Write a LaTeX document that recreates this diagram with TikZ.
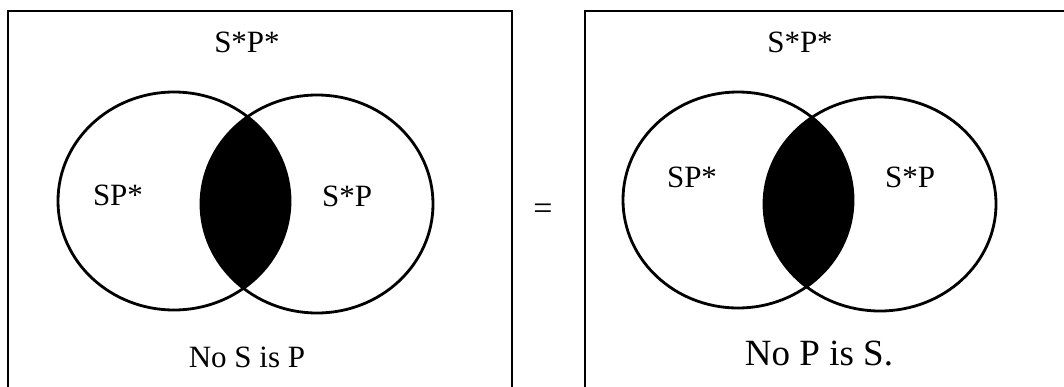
\documentclass[tikz,border=0pt]{standalone}
\usepackage{fontspec}
\setmainfont{Liberation Serif}
\usetikzlibrary{positioning}

\begin{document}
\begin{tikzpicture}[
    x=1pt, y=-1pt,
    frame/.style={
      line width=2.2pt,
      line cap=rect
    },
    venn/.style={
      line width=2.8pt
    },
    region/.style={
      font=\fontsize{31}{31}\selectfont,
      inner sep=0pt,
      anchor=base
    },
    caption/.style={
      font=\fontsize{37}{37}\selectfont,
      inner sep=0pt,
      anchor=base
    }
  ]
  \useasboundingbox (0,0) rectangle (1064,386);

  \begin{scope}
    \coordinate (S1) at (174,201);
    \coordinate (P1) at (317,204);
    \begin{scope}
      \clip (S1) ellipse [x radius=116, y radius=109];
      \fill (P1) ellipse [x radius=116, y radius=109];
    \end{scope}
    \draw[venn] (S1) ellipse [x radius=116, y radius=109];
    \draw[venn] (P1) ellipse [x radius=116, y radius=109];
    \draw[frame] (8,386) -- (8,11) -- (512,11) -- (512,386);
    \node[region] (out1) at (247,52) {S*P*};
    \node[region] (sp1) at (118,205) {SP*};
    \node[region] (ps1) at (347,206) {S*P};
    \node[region] (cap1) at (247,367) {No S is P};
  \end{scope}

  \node[region, anchor=center, font=\fontsize{34}{34}\selectfont] (eq) at (543,212) {=};

  \begin{scope}
    \coordinate (S2) at (738,200);
    \coordinate (P2) at (880,204);
    \begin{scope}
      \clip (S2) ellipse [x radius=115, y radius=108];
      \fill (P2) ellipse [x radius=116, y radius=107];
    \end{scope}
    \draw[venn] (S2) ellipse [x radius=115, y radius=108];
    \draw[venn] (P2) ellipse [x radius=116, y radius=107];
    \draw[frame] (585,386) -- (585,11) -- (1064,11);
    \node[region] (out2) at (800,52) {S*P*};
    \node[region] (sp2) at (692,187) {SP*};
    \node[region] (ps2) at (910,187) {S*P};
    \node[caption] (cap2) at (819,365) {No P is S.};
  \end{scope}
\end{tikzpicture}
\end{document}
